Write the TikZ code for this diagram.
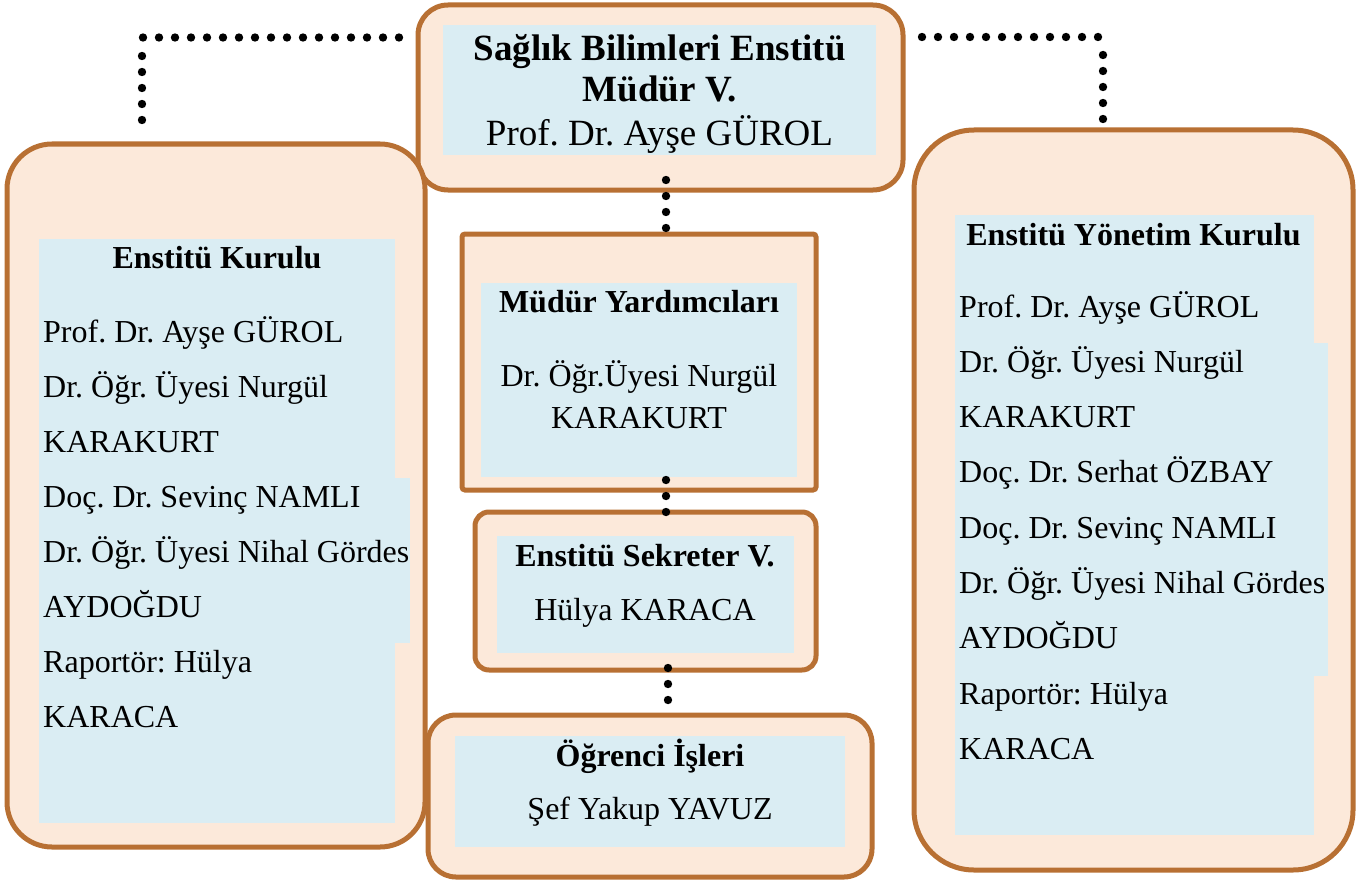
\documentclass[tikz,border=0pt]{standalone}
\usepackage{fontspec}
\setmainfont{Liberation Serif}
\usetikzlibrary{decorations.markings}
\frenchspacing
\definecolor{brn}{RGB}{184,112,51}
\definecolor{peach}{RGB}{252,233,218}
\definecolor{sky}{RGB}{218,237,243}
\tikzset{
  box/.style={draw=brn, fill=peach, line width=5pt, inner sep=0pt, outer sep=0pt},
  dotline/.style={postaction={decorate}, decoration={markings,
      mark=between positions 0 and 1 step 16pt with {\fill[black] (0,0) circle (4.2pt);}}},
  body/.style={inner sep=0pt, font=\fontsize{32}{38}\selectfont},
  head/.style={inner sep=0pt, font=\fontsize{32}{38}\selectfont\bfseries},
  bigbody/.style={inner sep=0pt, font=\fontsize{37}{42}\selectfont},
  bighead/.style={inner sep=0pt, font=\fontsize{37}{42}\selectfont\bfseries},
}
\begin{document}
\begin{tikzpicture}[x=1pt,y=-1pt]
\useasboundingbox (0,0) rectangle (1370,880);

% outer boxes
\node[box, rounded corners=30pt, minimum width=485pt, minimum height=185pt] (top) at (660.5,97.5) {};
\node[box, rounded corners=45pt, minimum width=418pt, minimum height=703pt] (ek) at (216,495.5) {};
\node[box, rounded corners=60pt, minimum width=439pt, minimum height=740pt] (eyk) at (1133.5,500) {};
\node[box, rounded corners=3pt, minimum width=354pt, minimum height=256pt] (mud) at (639,362) {};
\node[box, rounded corners=14pt, minimum width=341pt, minimum height=158pt] (sek) at (645.5,591) {};
\node[box, rounded corners=28pt, minimum width=444pt, minimum height=162pt] (ogr) at (650,796) {};

% blue text backgrounds
\fill[sky] (443,25) rectangle (876,155);
\fill[sky] (39,239) rectangle (395,823);
\fill[sky] (395,478) rectangle (410,643);
\fill[sky] (955,215) rectangle (1314,835);
\fill[sky] (1314,343) rectangle (1328,676);
\fill[sky] (481,283) rectangle (797,477);
\fill[sky] (497,536) rectangle (794,653);
\fill[sky] (455,736) rectangle (845,847);

% top box text
\node[bighead, anchor=base] (t1) at (659.5,61) {Sağlık Bilimleri Enstitü};
\node[bighead, anchor=base] (t2) at (659.5,102) {Müdür V.};
\node[bigbody, anchor=base] (t3) at (659.5,146) {Prof. Dr. Ayşe GÜROL};

% left box text
\node[head, anchor=base] (ekh) at (217,268) {Enstitü Kurulu};
\foreach \t [count=\i from 0] in {Prof. Dr. Ayşe GÜROL, Dr. Öğr. Üyesi Nurgül, KARAKURT, Doç. Dr. Sevinç NAMLI, Dr. Öğr. Üyesi Nihal Gördes, AYDOĞDU, Raportör: Hülya, KARACA}
  \node[body, anchor=base west] (ek\i) at (43,342+55.1*\i) {\t};

% right box text
\node[head, anchor=base] (eykh) at (1133.5,245) {Enstitü Yönetim Kurulu};
\foreach \t [count=\i from 0] in {Prof. Dr. Ayşe GÜROL, Dr. Öğr. Üyesi Nurgül, KARAKURT, Doç. Dr. Serhat ÖZBAY, Doç. Dr. Sevinç NAMLI, Dr. Öğr. Üyesi Nihal Gördes, AYDOĞDU, Raportör: Hülya, KARACA}
  \node[body, anchor=base west] (eyk\i) at (959,317+55.3*\i) {\t};

% middle boxes text
\node[head, anchor=base] (m1) at (639,312) {Müdür Yardımcıları};
\node[body, anchor=base] (m2) at (639,386) {Dr. Öğr.Üyesi Nurgül};
\node[body, anchor=base] (m3) at (639,428) {KARAKURT};
\node[head, anchor=base] (s1) at (645,566) {Enstitü Sekreter V.};
\node[body, anchor=base] (s2) at (645,620) {Hülya KARACA};
\node[head, anchor=base] (o1) at (650,766) {Öğrenci İşleri};
\node[body, anchor=base] (o2) at (650,819) {Şef Yakup YAVUZ};

% dotted connectors
\coordinate (lc) at (142.8,37.5);
\coordinate (lv) at (142,56);
\coordinate (lend) at (142,120.3);
\coordinate (rc) at (1098.3,37);
\coordinate (rv) at (1103,55);
\coordinate (rend) at (1103,119.3);
\path[dotline] ([xshift=-19pt]top.west |- lc) -- (lc);
\path[dotline] (lv) -- (lend);
\path[dotline] ([xshift=19pt]top.east |- rc) -- (rc);
\path[dotline] (rv) -- (rend);
\path[dotline] ([shift={(5.5,-10)}]top.south) -- ([shift={(27,-5.7)}]mud.north);
\path[dotline] ([shift={(27,-10)}]mud.south) -- ([shift={(20.5,1.5)}]sek.north);
\path[dotline] ([shift={(22.5,-2)}]sek.south) -- ([shift={(18,-13.5)}]ogr.north);
\end{tikzpicture}
\end{document}
